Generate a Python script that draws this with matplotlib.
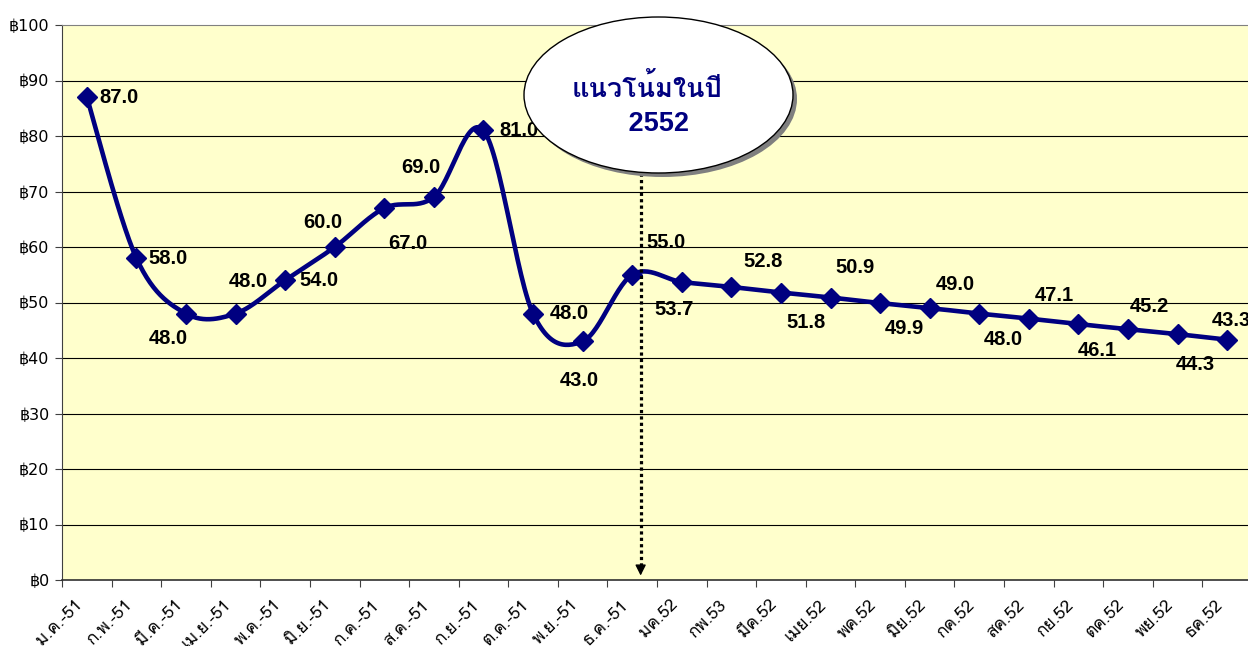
import numpy as np
import matplotlib
matplotlib.use('Agg')
import matplotlib.pyplot as plt
import matplotlib.transforms as mtransforms
from matplotlib.patches import Ellipse
from matplotlib.ticker import FuncFormatter, FixedLocator

# ข้อมูลราคา (บาท) รายเดือน
months = ['ม.ค.-51', 'ก.พ.-51', 'มี.ค.-51', 'เม.ย.-51', 'พ.ค.-51', 'มิ.ย.-51',
          'ก.ค.-51', 'ส.ค.-51', 'ก.ย.-51', 'ต.ค.-51', 'พ.ย.-51', 'ธ.ค.-51',
          'มค.52', 'กพ.53', 'มีค.52', 'เมย.52', 'พค.52', 'มิย.52',
          'กค.52', 'สค.52', 'กย.52', 'ตค.52', 'พย.52', 'ธค.52']
prices = [87.0, 58.0, 48.0, 48.0, 54.0, 60.0, 67.0, 69.0, 81.0, 48.0, 43.0, 55.0,
          53.7, 52.8, 51.8, 50.9, 49.9, 49.0, 48.0, 47.1, 46.1, 45.2, 44.3, 43.3]
y_ticks = [0, 10, 20, 30, 40, 50, 60, 70, 80, 90, 100]
bubble_text = 'แนวโน้มในปี\n   2552'

# ตำแหน่งป้ายตัวเลข (pixel offset จากจุด)
label_offsets = [(32, 0), (32, 0), (-18, -25), (13, 32), (34, 0), (-12, 25),
                 (24, -35), (-13, 30), (35, 0), (36, 0), (-3, -39), (34, 32),
                 (-8, -28), (32, 25), (25, -30), (24, 30), (24, -25), (26, 24),
                 (24, -26), (25, 23), (19, -26), (21, 23), (18, -30), (4, 19)]

NAVY = '#000080'
THAI = ['Loma', 'DejaVu Sans']
NUM = ['Liberation Sans', 'Loma']


def smooth_line(xs, ys, steps=30):
    '''
    เส้นโค้งแบบ smoothed line ของ Excel (Bezier)
    '''
    pts = np.column_stack([xs, ys]).astype(float)
    P = np.vstack([pts[0], pts, pts[-1]])
    out = []
    t = np.linspace(0, 1, steps)[:, None]
    for i in range(len(pts) - 1):
        p0, p1, p2, p3 = P[i], P[i + 1], P[i + 2], P[i + 3]
        c1 = p1 + (p2 - p0) / 6
        c2 = p2 - (p3 - p1) / 6
        seg = (1 - t) ** 3 * p1 + 3 * (1 - t) ** 2 * t * c1 + 3 * (1 - t) * t ** 2 * c2 + t ** 3 * p2
        out.append(seg if i == 0 else seg[1:])
    out = np.vstack(out)
    return out[:, 0], out[:, 1]


def main():
    x = np.arange(len(prices))
    fig = plt.figure(figsize=(12.48, 6.46), dpi=100)
    ax = fig.add_axes([62 / 1248, 1 - 580 / 646, (1252 - 62) / 1248, 555 / 646])
    ax.set_facecolor('#FFFFCC')

    ax.set_xlim(-0.5, len(prices) - 0.5)
    ax.set_ylim(0, 100)

    # เส้นกริด
    for v in y_ticks[1:-1]:
        ax.axhline(v, color='black', lw=0.8, zorder=1)

    sx, sy = smooth_line(x, prices)
    ax.plot(sx, sy, color=NAVY, lw=3.3, zorder=3, solid_capstyle='round')
    ax.plot(x, prices, linestyle='none', marker='D', ms=10, color=NAVY, zorder=4)

    for i, v in enumerate(prices):
        dx, dy = label_offsets[i]
        ax.annotate('%.1f' % v, (x[i], v), xytext=(dx, dy), textcoords='offset pixels',
                    ha='center', va='center', fontsize=14.5, fontweight='bold',
                    family=NUM, color='black', zorder=5, annotation_clip=False)

    # ลูกศรเส้นประ
    xa = 11.17
    ax.plot([xa, xa], [2.5, 73.8], color='black', lw=2.3, linestyle=(0, (1, 1)), zorder=5)
    ax.annotate('', xy=(xa, 0.3), xytext=(xa, 3.2),
                arrowprops=dict(arrowstyle='-|>', color='black', lw=1, mutation_scale=16),
                zorder=5)

    # แกน
    ax.yaxis.set_major_locator(FixedLocator(y_ticks))
    ax.yaxis.set_major_formatter(FuncFormatter(lambda v, p: '฿%d' % v))
    ax.tick_params(axis='y', direction='out', length=5, width=0.8, colors='#404040',
                   labelcolor='black', labelsize=11.5, pad=4)
    for lab in ax.get_yticklabels():
        lab.set_family(['DejaVu Sans', 'Loma'])

    ax.set_xticks(x)
    ax.set_xticklabels(months, rotation=45, ha='right', va='top',
                       rotation_mode='anchor', fontsize=12.5, family=THAI)
    ax.tick_params(axis='x', which='major', length=0, pad=12)
    shift = mtransforms.ScaledTranslation(-12 / 100, 0, fig.dpi_scale_trans)
    for lab in ax.get_xticklabels():
        lab.set_transform(lab.get_transform() + shift)
    ax.set_xticks(np.arange(len(prices) + 1) - 0.5, minor=True)
    ax.tick_params(axis='x', which='minor', direction='out', length=5, width=0.8, colors='#404040')

    ax.spines['top'].set_color('#808080')
    ax.spines['right'].set_visible(False)
    ax.spines['left'].set_color('#404040')
    ax.spines['bottom'].set_color('#303030')
    ax.spines['bottom'].set_linewidth(1.2)

    # บอลลูนข้อความ
    cx, cy, w, h = 658.5 / 1248, 1 - 95 / 646, 269 / 1248, 156 / 646
    shadow = Ellipse((cx + 4 / 1248, cy - 4 / 646), w, h, transform=fig.transFigure,
                     facecolor='#7f7f7f', edgecolor='none', zorder=6)
    bubble = Ellipse((cx, cy), w, h, transform=fig.transFigure,
                     facecolor='white', edgecolor='black', lw=1.0, zorder=7)
    fig.add_artist(shadow)
    fig.add_artist(bubble)
    fig.text(647 / 1248, 1 - 106 / 646, bubble_text, ha='center', va='center',
             fontsize=19.5, fontweight='bold', color=NAVY, family=['Liberation Sans', 'Loma'],
             linespacing=1.4, zorder=8)

    fig.savefig('out.png', dpi=100)


if __name__ == '__main__':
    main()
